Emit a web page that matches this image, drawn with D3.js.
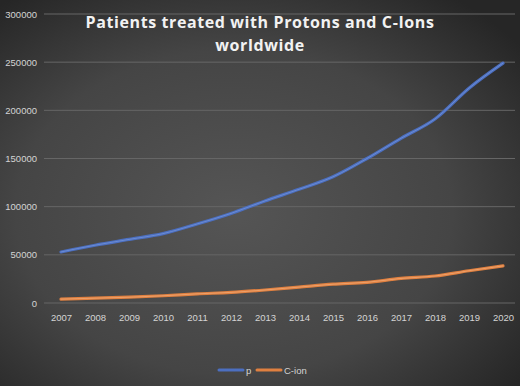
<!DOCTYPE html>
<html><head><meta charset="utf-8">
<script src="https://cdn.jsdelivr.net/npm/d3@7"></script>
<style>html,body{margin:0;padding:0;background:#3a3a3a;}svg{display:block;}</style>
</head><body>
<script>
const years = ["2007","2008","2009","2010","2011","2012","2013","2014","2015","2016","2017","2018","2019","2020"];
const protons = [53000,60000,66000,72000,82000,93000,106000,118000,131000,150000,171000,191000,223000,249000];
const cions = [4000,5000,6000,7500,9500,11000,13500,16500,19500,21500,25500,28000,33500,38500];
const yTicks = [0,50000,100000,150000,200000,250000,300000];
const seriesNames = ["p","C-ion"];
const colors = ["#4c6fc0","#e08040"];

const W=520,H=386;
const svg=d3.select("body").append("svg").attr("width",W).attr("height",H);
const defs=svg.append("defs");
const rg=defs.append("radialGradient").attr("id","bg").attr("cx","45%").attr("cy","55%").attr("r","70%");
rg.append("stop").attr("offset","0%").attr("stop-color","#555555");
rg.append("stop").attr("offset","60%").attr("stop-color","#454545");
rg.append("stop").attr("offset","100%").attr("stop-color","#262626");
svg.append("rect").attr("width",W).attr("height",H).attr("fill","url(#bg)");

const x=d3.scalePoint().domain(years).range([61,503]);
const y=d3.scaleLinear().domain([0,300000]).range([303,14]);

const grid=svg.append("g");
grid.selectAll("line").data(yTicks).join("line")
 .attr("x1",44).attr("x2",515).attr("y1",d=>y(d)).attr("y2",d=>y(d))
 .attr("stroke","#666666").attr("stroke-width",1);

const yAxis=svg.append("g").attr("transform","translate(40,0)")
 .call(d3.axisLeft(y).tickValues(yTicks).tickSize(0).tickPadding(3).tickFormat(d3.format("d")));
yAxis.select(".domain").remove();
yAxis.selectAll("text").attr("fill","#d4d4d4").style("font-family","Liberation Sans, Arial, sans-serif").style("font-size","9.5px");

const xAxis=svg.append("g").attr("transform","translate(0,312)")
 .call(d3.axisBottom(x).tickSize(0).tickPadding(2));
xAxis.select(".domain").remove();
xAxis.selectAll("text").attr("fill","#d4d4d4").style("font-family","Liberation Sans, Arial, sans-serif").style("font-size","9.5px");

const line=d3.line().x((d,i)=>x(years[i])).y(d=>y(d)).curve(d3.curveMonotoneX);
[protons,cions].forEach((s,k)=>{
  svg.append("path").attr("d",line(s)).attr("fill","none")
   .attr("stroke",colors[k]).attr("stroke-width",3.2).attr("stroke-linecap","round").attr("stroke-linejoin","round");
  svg.append("path").attr("d",line(s)).attr("fill","none")
   .attr("stroke",k===0?"#7f9fe0":"#f5b585").attr("stroke-width",1).attr("stroke-opacity",0.6).attr("stroke-linecap","round");
});

const title=svg.append("text").attr("x",260).attr("text-anchor","middle")
 .attr("fill","#f2f2f2").style("font-family","Open Sans, sans-serif").style("font-weight","bold")
 .style("font-size","16px").style("letter-spacing","0.6px");
title.append("tspan").attr("x",260).attr("y",28).text("Patients treated with Protons and C-Ions");
title.append("tspan").attr("x",260).attr("y",51).text("worldwide");

const leg=svg.append("g");
const legX=[219,257];
seriesNames.forEach((n,k)=>{
  leg.append("line").attr("x1",legX[k]).attr("x2",legX[k]+24).attr("y1",370).attr("y2",370)
   .attr("stroke",colors[k]).attr("stroke-width",3).attr("stroke-linecap","round");
  leg.append("text").attr("x",legX[k]+27).attr("y",374).text(n).attr("fill","#d4d4d4")
   .style("font-family","Liberation Sans, Arial, sans-serif").style("font-size","9.5px");
});
</script>
</body></html>
